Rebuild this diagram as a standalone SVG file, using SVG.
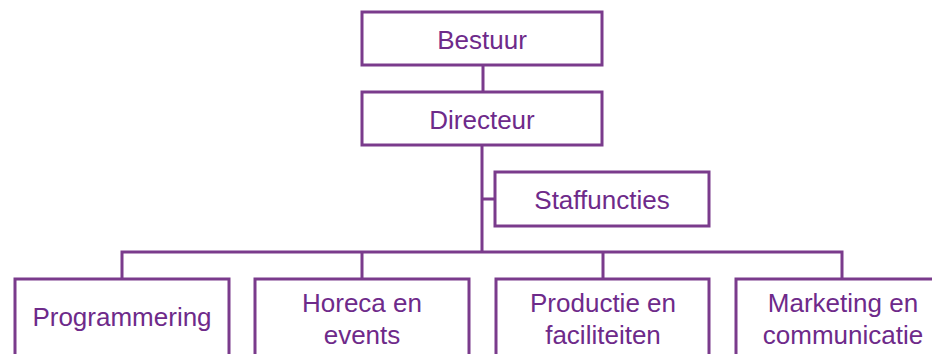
<svg xmlns="http://www.w3.org/2000/svg" width="932" height="354" viewBox="0 0 932 354">
<style>
.box{fill:#fff;stroke:#7a3b8c;stroke-width:3}
.ln{fill:none;stroke:#7a3b8c;stroke-width:3}
text{font-family:"Liberation Sans",Arial,sans-serif;font-size:26px;fill:#6e2a8a;text-anchor:middle}
</style>
<rect width="932" height="354" fill="#fff"/>
<g id="connectors">
<path class="ln" d="M483 65V92M482 145V252M482 199H495M122 279V252H842V279M362 252V279M603 252V279"/>
</g>
<g id="bestuur"><rect class="box" x="362" y="12" width="240" height="53"/><text x="482" y="49">Bestuur</text></g>
<g id="directeur"><rect class="box" x="362" y="92" width="240" height="53"/><text x="482" y="129">Directeur</text></g>
<g id="staffuncties"><rect class="box" x="495" y="172" width="214" height="54"/><text x="602" y="209">Staffuncties</text></g>
<g id="programmering"><rect class="box" x="15" y="279" width="214" height="90"/><text x="122" y="326">Programmering</text></g>
<g id="horeca"><rect class="box" x="255" y="279" width="214" height="90"/><text x="362" y="312">Horeca en</text><text x="362" y="344">events</text></g>
<g id="productie"><rect class="box" x="496" y="279" width="213" height="90"/><text x="603" y="312">Productie en</text><text x="603" y="344">faciliteiten</text></g>
<g id="marketing"><rect class="box" x="736" y="279" width="214" height="90"/><text x="843" y="312">Marketing en</text><text x="843" y="344">communicatie</text></g>
</svg>
